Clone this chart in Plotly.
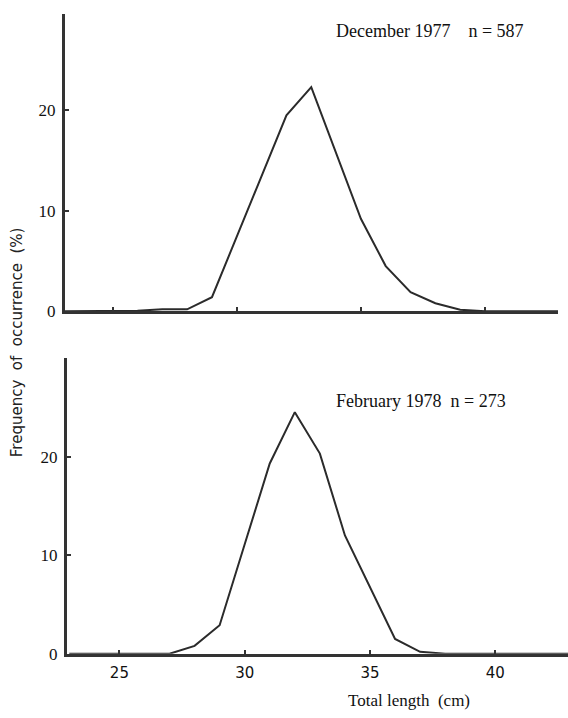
import plotly.graph_objects as go

# December 1977 (n = 587)
dec_length = [23, 26, 27, 28, 29, 30, 31, 32, 33, 34, 35, 36, 37, 38, 39, 40, 43]
dec_freq = [0, 0.05, 0.2, 0.2, 1.4, 7.4, 13.4, 19.5, 22.3, 15.7, 9.2, 4.5, 1.9, 0.8, 0.15, 0, 0]

# February 1978 (n = 273)
feb_length = [23, 27, 28, 29, 30, 31, 32, 33, 34, 35, 36, 37, 38, 43]
feb_freq = [0, 0, 0.8, 2.9, 11.1, 19.3, 24.5, 20.3, 12.0, 6.8, 1.5, 0.2, 0, 0]

x_ticks = [25, 30, 35, 40]
y_ticks = [0, 10, 20]

INK = "#2b2b2b"
LINE = "#333333"

fig = go.Figure()
fig.add_trace(go.Scatter(x=dec_length, y=dec_freq, mode="lines",
                         line=dict(color=INK, width=2), xaxis="x", yaxis="y",
                         showlegend=False, hoverinfo="skip"))
fig.add_trace(go.Scatter(x=feb_length, y=feb_freq, mode="lines",
                         line=dict(color=INK, width=2), xaxis="x2", yaxis="y2",
                         showlegend=False, hoverinfo="skip"))

common_x = dict(showline=True, linewidth=3, linecolor=LINE, showgrid=False,
                zeroline=False, ticks="inside", ticklen=4, tickwidth=2,
                tickcolor=LINE, tickvals=x_ticks)
common_y = dict(showline=True, linewidth=3, linecolor=LINE, showgrid=False,
                zeroline=False, ticks="inside", ticklen=4, tickwidth=2,
                tickcolor=LINE, tickvals=y_ticks, ticklabelstandoff=3,
                tickfont=dict(family="Liberation Serif", size=17, color="#111"))

fig.update_layout(
    width=568, height=718,
    margin=dict(l=0, r=0, t=0, b=0),
    paper_bgcolor="white", plot_bgcolor="white",
    xaxis=dict(domain=[65/568, 558/568], range=[23.08, 42.94],
               showticklabels=False, anchor="y", **common_x),
    yaxis=dict(domain=[402.3/718, 704/718], range=[0, 29.6],
               anchor="x", **common_y),
    xaxis2=dict(domain=[67/568, 1.0], range=[22.91, 42.9], anchor="y2",
                ticklabelstandoff=3,
                tickfont=dict(family="DejaVu Sans", size=15, color="#111"),
                **common_x),
    yaxis2=dict(domain=[55/718, 355/718], range=[0, 30], anchor="x2",
                **common_y),
    annotations=[
        dict(text="December 1977    n = 587", x=430/568, y=(718-31)/718,
             xref="paper", yref="paper", xanchor="center", yanchor="middle",
             showarrow=False,
             font=dict(family="Liberation Serif", size=18, color="#111")),
        dict(text="February 1978  n = 273", x=421/568, y=(718-407)/718,
             xref="paper", yref="paper", xanchor="center", yanchor="middle",
             showarrow=False,
             font=dict(family="Liberation Serif", size=18, color="#111")),
        dict(text="Frequency  of  occurrence  (%)", x=17/568, y=(718-347)/718,
             xref="paper", yref="paper", xanchor="center", yanchor="middle",
             textangle=-90, showarrow=False,
             font=dict(family="DejaVu Sans", size=15, color="#222")),
        dict(text="Total length  (cm)", x=409/568, y=18/718, borderpad=0,
             xref="paper", yref="paper", xanchor="center", yanchor="top",
             showarrow=False,
             font=dict(family="Liberation Serif", size=17, color="#111")),
    ],
)

fig.write_html("out.html")
